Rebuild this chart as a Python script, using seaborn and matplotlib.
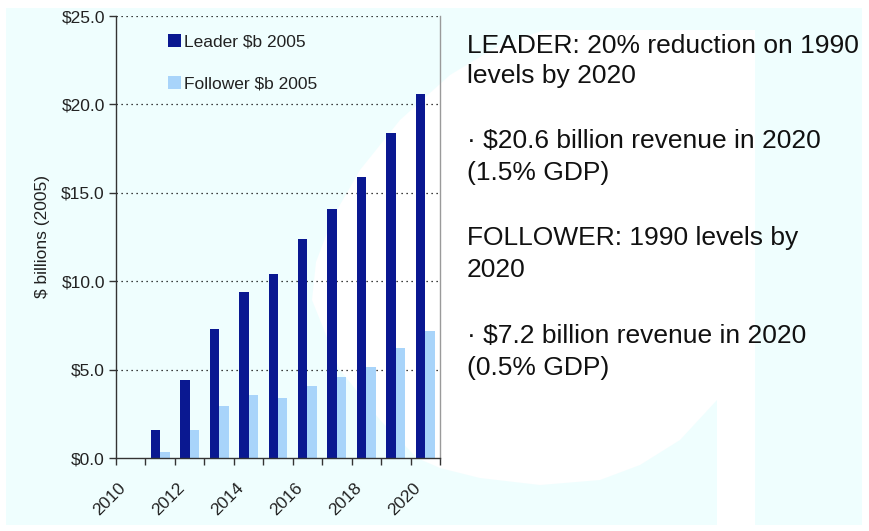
import numpy as np
import pandas as pd
import matplotlib
matplotlib.use("Agg")
import matplotlib.pyplot as plt
import seaborn as sns
from matplotlib.patches import Rectangle, Polygon
from matplotlib.transforms import ScaledTranslation
from matplotlib.ticker import FuncFormatter, FixedLocator

years = ["2010", "2011", "2012", "2013", "2014", "2015", "2016", "2017", "2018", "2019", "2020"]
leader = [0.0, 1.6, 4.4, 7.3, 9.4, 10.4, 12.4, 14.1, 15.9, 18.4, 20.6]
follower = [0.0, 0.35, 1.6, 2.95, 3.55, 3.4, 4.1, 4.6, 5.15, 6.2, 7.2]
series_names = ["Leader $b 2005", "Follower $b 2005"]
series_colors = ["#0A1891", "#A8D4FA"]
xlabels_shown = ["2010", "2012", "2014", "2016", "2018", "2020"]
ylabel = "$ billions (2005)"
notes = [
    "LEADER: 20% reduction on 1990",
    "levels by 2020",
    "\u00b7 $20.6 billion revenue in 2020",
    "(1.5% GDP)",
    "FOLLOWER: 1990 levels by",
    "2020",
    "\u00b7 $7.2 billion revenue in 2020",
    "(0.5% GDP)",
]
note_baseline = [53, 83, 148, 180, 245, 277, 343, 375]

df = pd.DataFrame({
    "year": years * 2,
    "value": leader + follower,
    "series": [series_names[0]] * len(years) + [series_names[1]] * len(years),
})

sns.set_theme(style="white")
plt.rcParams["font.family"] = ["Liberation Sans", "DejaVu Sans"]

W, H = 870, 531
fig = plt.figure(figsize=(W / 100, H / 100), dpi=100)
fig.patch.set_facecolor("white")

def fxy(x, y):
    return (x / W, 1 - y / H)

bg = "#EFFEFE"
fig.add_artist(Rectangle(fxy(6, 525), (862 - 6) / W, (525 - 8) / H,
                         transform=fig.transFigure, facecolor=bg, edgecolor="none", zorder=-3))
poly_px = [(312, 300), (316, 262), (333, 217), (360, 170), (400, 120), (450, 75),
           (500, 45), (545, 30), (755, 30), (755, 525), (717, 525), (717, 400),
           (680, 440), (640, 465), (600, 480), (540, 485), (480, 478), (440, 468),
           (417, 458), (380, 420), (340, 370)]
fig.add_artist(Polygon([fxy(x, y) for x, y in poly_px], closed=True,
                       transform=fig.transFigure, facecolor="white", edgecolor="none", zorder=-2))

ax = fig.add_axes([116 / W, 1 - 458 / H, (440 - 116) / W, (458 - 16) / H])
ax.set_facecolor("none")

sns.barplot(data=df, x="year", y="value", hue="series", hue_order=series_names,
            palette=series_colors, saturation=1, width=0.64, gap=0, dodge=True,
            linewidth=0, errorbar=None, ax=ax)

FS = 12.5
ax.set_xlim(-0.5, len(years) - 0.5)
ax.set_ylim(0, 25)
ax.set_yticks(np.arange(0, 26, 5))
ax.yaxis.set_major_formatter(FuncFormatter(lambda v, p: f"${v:.1f}"))
ax.tick_params(axis="y", which="major", direction="out", length=5, width=1, color="#333333",
               labelsize=FS, labelcolor="#222222", pad=3, left=True)
for v in np.arange(5, 26, 5):
    ax.axhline(v, color="black", linestyle=(0, (1, 3)), linewidth=0.9, zorder=0.5)

# x ticks at slot boundaries, labels for even years
bounds = np.arange(-0.5, len(years), 1.0)
ax.xaxis.set_major_locator(FixedLocator(bounds))
lbls = []
for i in range(len(bounds)):
    if i < len(years) and years[i] in xlabels_shown:
        lbls.append(years[i])
    else:
        lbls.append("")
ax.set_xticklabels(lbls, rotation=45, ha="right", rotation_mode="anchor",
                   fontsize=FS, color="#222222")
ax.tick_params(axis="x", which="major", direction="out", length=5, width=1, color="#333333",
               pad=11, bottom=True)
off = ScaledTranslation(2 / 100, 0, fig.dpi_scale_trans)
for t in ax.get_xticklabels():
    t.set_transform(t.get_transform() + off)

ax.set_xlabel("")
ax.set_ylabel(ylabel, fontsize=FS, color="#222222", labelpad=8)

for s in ["left", "bottom"]:
    ax.spines[s].set_visible(True)
    ax.spines[s].set_color("#333333")
    ax.spines[s].set_linewidth(1.0)
ax.spines["right"].set_color("#9a9a9a")
ax.spines["right"].set_linewidth(1.0)
ax.spines["top"].set_visible(False)

leg = ax.legend(loc="upper left", bbox_to_anchor=((168 - 116) / 324, 1 - (34 - 16) / 442),
                frameon=False, fontsize=FS, handlelength=0.75, handleheight=0.75,
                handletextpad=0.2, labelspacing=1.55, borderpad=0, borderaxespad=0)
for t in leg.get_texts():
    t.set_color("#222222")

for txt, y in zip(notes, note_baseline):
    fig.text(467 / W, 1 - y / H, txt, fontsize=19, color="#111111",
             ha="left", va="baseline")

fig.savefig("out.png", dpi=100, facecolor=fig.get_facecolor())
